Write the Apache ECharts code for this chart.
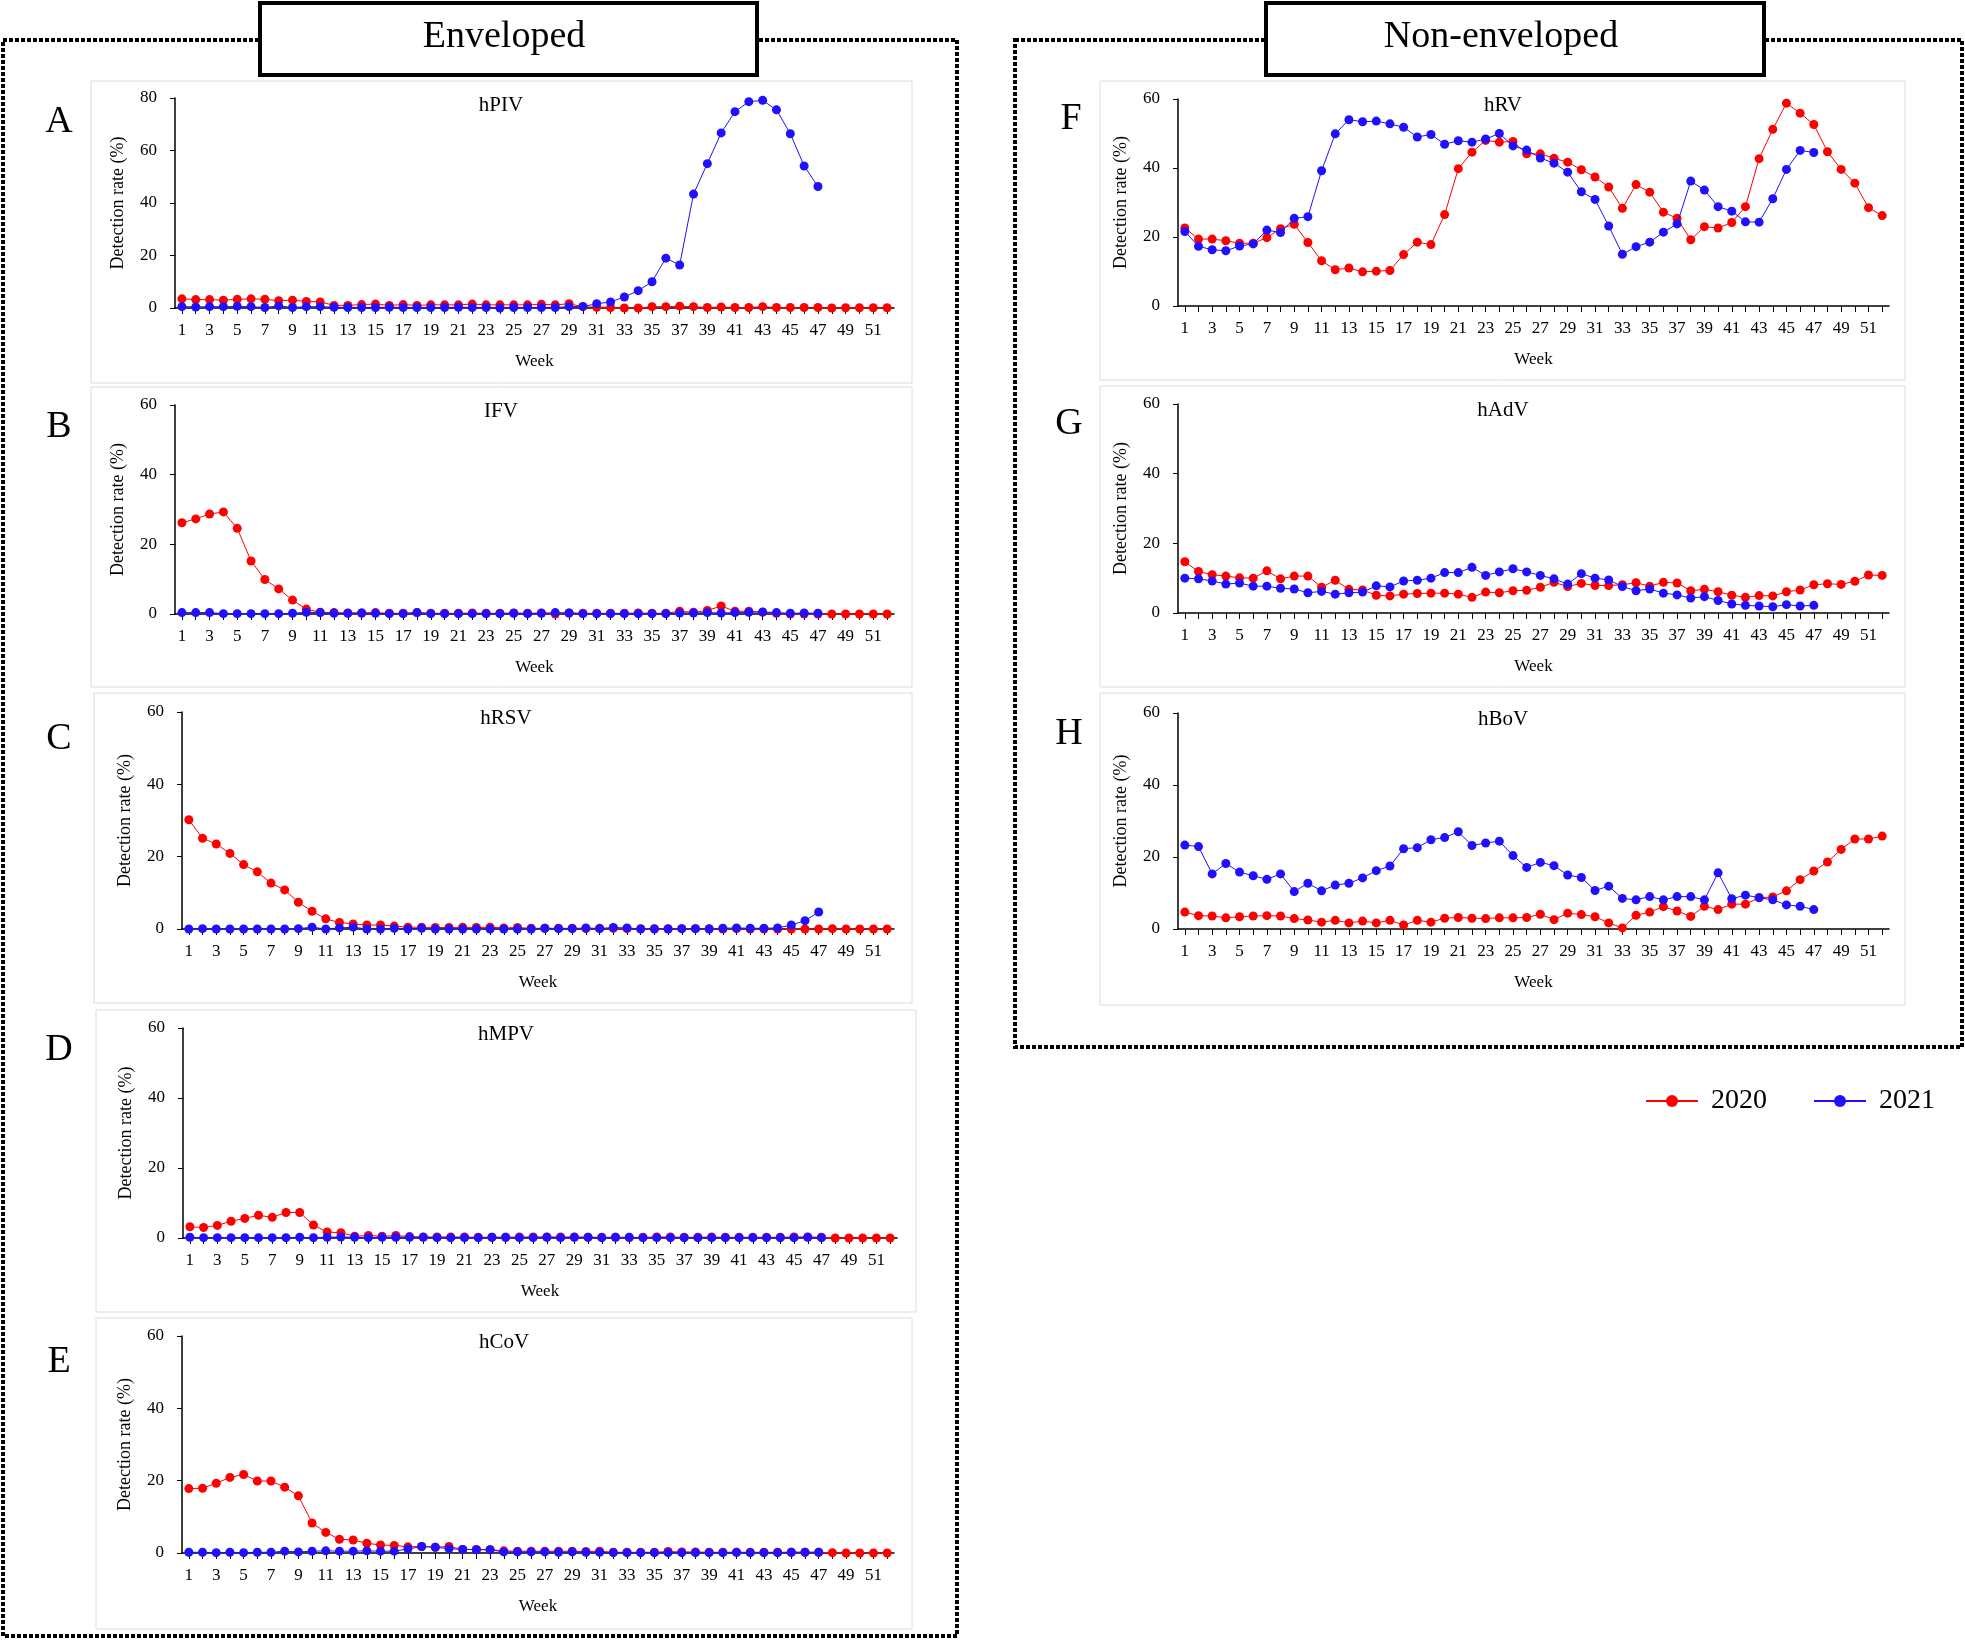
<!DOCTYPE html>
<html>
<head>
<meta charset="utf-8">
<script src="https://cdn.jsdelivr.net/npm/echarts@6/dist/echarts.min.js"></script>
<style>
html,body{margin:0;padding:0;background:#fff;}
#chart{width:1965px;height:1641px;}
</style>
</head>
<body>
<div id="chart"></div>
<script>
const weeks = ['1','2','3','4','5','6','7','8','9','10','11','12','13','14','15','16','17','18','19','20','21','22','23','24','25','26','27','28','29','30','31','32','33','34','35','36','37','38','39','40','41','42','43','44','45','46','47','48','49','50','51','52'];
const seriesNames = ['2020','2021'];
const virusNames = ['hPIV','IFV','hRSV','hMPV','hCoV','hRV','hAdV','hBoV'];
const panelLetters = ['A','B','C','D','E','F','G','H'];

const hPIV_2020 = [3.5,3.2,3.2,3.0,3.3,3.5,3.3,2.8,3.0,2.5,2.3,1.0,1.0,1.3,1.5,1.0,1.3,1.0,1.2,1.2,1.2,1.5,1.2,1.2,1.2,1.2,1.4,1.2,1.6,0.5,0.3,0.2,0.0,0.0,0.5,0.5,0.7,0.5,0.2,0.4,0.2,0.2,0.5,0.2,0.2,0.2,0.2,0.0,0.1,0.1,0.1,0.1];
const hPIV_2021 = [0.5,0.4,0.5,0.5,0.6,0.5,0.2,0.8,0.2,0.5,0.5,0.3,0.2,0.2,0.2,0.3,0.2,0.2,0.2,0.2,0.3,0.2,0.2,0.0,0.2,0.2,0.2,0.2,0.5,0.6,1.6,2.3,4.2,6.6,10.0,19.0,16.4,43.4,55.0,66.7,74.8,78.6,79.1,75.5,66.4,54.1,46.3];

const IFV_2020 = [26.2,27.3,28.7,29.3,24.6,15.2,9.9,7.2,4.0,1.4,0.5,0.4,0.3,0.3,0.4,0.2,0.2,0.4,0.2,0.2,0.2,0.3,0.2,0.2,0.3,0.2,0.3,0.0,0.3,0.2,0.2,0.2,0.2,0.3,0.2,0.2,0.8,0.5,1.0,2.3,0.8,0.8,0.5,0.2,0,0,0,0,0,0,0,0];
const IFV_2021 = [0.4,0.4,0.4,0.1,0.1,0.1,0.1,0.1,0.2,0.5,0.4,0.2,0.2,0.3,0.2,0.1,0.1,0.4,0.1,0.1,0.1,0.1,0.1,0.1,0.2,0.1,0.2,0.4,0.3,0.1,0.1,0.1,0.1,0.1,0.1,0.1,0.3,0.3,0.4,0.3,0.4,0.5,0.6,0.4,0.2,0.3,0.2];

const hRSV_2020 = [30.2,25.1,23.5,20.9,17.8,15.8,12.7,10.8,7.4,4.9,2.8,1.8,1.4,1.1,1.1,0.8,0.5,0.5,0.4,0.4,0.5,0.4,0.5,0.3,0.4,0.2,0.2,0.2,0.2,0.1,0.2,0.2,0.1,0.1,0.1,0.1,0.1,0.1,0.1,0,0.1,0,0,0,0,0,0,0.1,0,0,0,0];
const hRSV_2021 = [0,0.1,0,0,0,0,0,0,0.1,0.5,0,0.3,0.5,0,0,0.2,0,0.2,0,0,0,0,0,0,0,0,0.2,0.1,0.1,0.3,0.1,0.4,0.3,0,0,0,0.1,0.1,0,0.2,0.3,0.2,0.2,0.3,1.1,2.3,4.7];

const hMPV_2020 = [3.2,3.0,3.6,4.8,5.6,6.5,5.9,7.3,7.3,3.7,1.7,1.5,0.5,0.7,0.5,0.7,0.4,0.3,0.3,0.3,0.3,0.2,0.2,0.2,0.3,0.3,0.3,0.3,0.3,0.2,0.2,0.2,0.1,0.2,0.3,0.3,0.2,0.2,0.3,0.2,0.2,0.2,0.2,0.2,0.3,0.3,0.2,0,0,0,0,0];
const hMPV_2021 = [0.2,0.1,0.1,0.1,0.1,0.1,0.1,0.1,0.2,0.1,0.2,0.3,0.2,0.1,0.2,0.2,0.2,0.2,0.1,0.1,0.1,0.1,0.2,0.2,0.1,0.1,0.2,0.1,0.2,0.2,0.1,0.2,0.2,0.1,0.1,0.1,0.1,0.1,0.1,0.1,0.1,0.1,0.1,0.1,0.1,0.2,0.1];

const hCoV_2020 = [17.8,17.9,19.3,20.9,21.7,19.9,19.9,18.2,15.8,8.3,5.7,3.8,3.6,2.7,2.2,2.1,1.7,1.8,1.6,1.8,1.0,1.0,0.9,0.6,0.5,0.5,0.5,0.5,0.5,0.4,0.5,0.2,0.2,0.2,0.2,0.4,0.3,0.3,0.2,0.2,0.2,0.2,0.2,0.2,0.2,0.2,0.2,0.1,0,0,0,0];
const hCoV_2021 = [0.2,0.2,0.1,0.2,0.1,0.2,0.2,0.5,0.3,0.5,0.6,0.5,0.5,0.6,0.5,0.5,1.1,1.8,1.6,1.2,1.0,0.9,0.9,0.3,0.3,0.3,0.3,0.2,0.3,0.2,0.2,0.1,0.1,0.1,0.1,0.1,0.1,0.1,0.1,0.1,0.2,0.1,0.1,0.1,0.2,0.2,0.2];

const hRV_2020 = [22.6,19.4,19.4,18.9,18.2,18.2,19.8,22.4,23.7,18.4,13.1,10.5,11.0,9.9,10.1,10.3,14.9,18.5,17.8,26.5,39.8,44.6,48.0,47.5,47.7,44.1,44.1,42.8,41.7,39.5,37.4,34.5,28.3,35.2,33.0,27.2,25.4,19.2,23.0,22.6,24.2,28.8,42.7,51.2,58.8,55.9,52.6,44.7,39.6,35.6,28.5,26.2];
const hRV_2021 = [21.6,17.3,16.3,16.0,17.4,18.0,22.0,21.3,25.4,25.9,39.2,49.9,54.0,53.4,53.6,52.8,51.8,49.0,49.7,46.9,47.9,47.5,48.4,50.0,46.4,45.2,42.9,41.4,38.8,33.1,30.9,23.2,15.0,17.2,18.5,21.4,23.8,36.2,33.6,28.8,27.5,24.4,24.3,31.1,39.6,45.1,44.5];

const hAdV_2020 = [14.7,11.9,11.0,10.6,10.1,10.0,12.1,9.8,10.6,10.6,7.4,9.4,6.8,6.6,5.1,4.9,5.4,5.6,5.7,5.7,5.4,4.5,6.0,5.8,6.4,6.5,7.4,8.8,7.6,8.5,7.9,7.9,8.1,8.7,7.7,8.8,8.6,6.4,6.8,6.1,5.1,4.5,5.0,4.9,6.1,6.6,8.1,8.4,8.2,9.1,10.9,10.8];
const hAdV_2021 = [10.0,9.8,9.2,8.3,8.6,7.7,7.7,7.1,6.9,5.8,6.2,5.4,5.8,6.0,7.8,7.5,9.2,9.4,10.0,11.6,11.6,13.1,10.8,11.8,12.7,11.8,10.8,9.8,8.3,11.3,10.0,9.5,7.6,6.4,6.9,5.7,5.2,4.3,4.7,3.6,2.6,2.2,2.0,1.8,2.4,2.0,2.2];

const hBoV_2020 = [4.7,3.7,3.6,3.1,3.4,3.6,3.7,3.6,2.9,2.5,1.9,2.4,1.7,2.2,1.7,2.4,1.1,2.4,1.9,3.0,3.2,3.0,2.9,3.1,3.1,3.2,4.1,2.6,4.4,4.0,3.4,1.7,0.3,3.8,4.7,6.2,5.0,3.5,6.3,5.4,6.9,6.9,8.7,8.9,10.6,13.7,16.1,18.6,22.1,25.0,25.0,25.8];
const hBoV_2021 = [23.3,22.9,15.3,18.2,15.8,14.8,13.8,15.3,10.4,12.7,10.6,12.2,12.7,14.2,16.2,17.5,22.3,22.6,24.8,25.4,27.0,23.2,23.9,24.4,20.4,17.1,18.5,17.6,15.0,14.3,10.7,11.9,8.5,8.1,9.0,8.1,9.0,9.0,8.1,15.6,8.4,9.4,8.7,8.1,6.7,6.3,5.4];

const data2020 = [hPIV_2020, IFV_2020, hRSV_2020, hMPV_2020, hCoV_2020, hRV_2020, hAdV_2020, hBoV_2020];
const data2021 = [hPIV_2021, IFV_2021, hRSV_2021, hMPV_2021, hCoV_2021, hRV_2021, hAdV_2021, hBoV_2021];
const yMax = [80,60,60,60,60,60,60,60];

// layout (pixels)
const grids = [
  {left:175, top:98,  width:719, height:210},
  {left:175, top:405, width:719, height:209},
  {left:182, top:712, width:712, height:217},
  {left:183, top:1028,width:714, height:210},
  {left:182, top:1336,width:712, height:217},
  {left:1178,top:99,  width:711, height:207},
  {left:1178,top:404, width:711, height:209},
  {left:1178,top:713, width:711, height:216}
];
const panelBoxes = [
  [91,81,821,302],[91,387,821,300],[94,693,818,310],[96,1010,820,302],[96,1318,816,311],
  [1100,81,805,299],[1100,386,805,301],[1100,693,805,312]
];
const titlePos = [[501,105],[501,411],[506,718],[506,1034],[504,1342],[1503,105],[1503,410],[1503,719]];
const letterPos = [[59,122],[59,427],[59,739],[59,1050],[59,1362],[1071,119],[1069,424],[1069,734]];

const FONT = '"Liberation Serif","Times New Roman",serif';
const RED = '#ff0000', BLUE = '#2010ff';

const legendText = {fontFamily: FONT, fontSize: 28, color: '#000', padding: [0, 0, 0, 8]};
const option = {
  animation: false,
  backgroundColor: '#fff',
  textStyle: {fontFamily: FONT, color: '#000'},
  grid: [], xAxis: [], yAxis: [], series: [],
  legend: [
    {data: [seriesNames[0]], left: 1640, top: 1082, itemWidth: 52, itemHeight: 15, textStyle: legendText},
    {data: [seriesNames[1]], left: 1808, top: 1082, itemWidth: 52, itemHeight: 15, textStyle: legendText}
  ],
  graphic: []
};

grids.forEach((g, i) => {
  option.grid.push(Object.assign({}, g));
  option.xAxis.push({
    type: 'category', gridIndex: i, data: weeks, boundaryGap: true,
    name: 'Week', nameLocation: 'middle', nameGap: 45,
    nameTextStyle: {fontFamily: FONT, fontSize: 17, color: '#000'},
    axisLine: {lineStyle: {color: '#000', width: 1.5}},
    axisTick: {show: true, alignWithLabel: true, interval: 0, length: 6, lineStyle: {color: '#000'}},
    axisLabel: {interval: 1, fontFamily: FONT, fontSize: 17, color: '#000', margin: 14},
    splitLine: {show: false}
  });
  option.yAxis.push({
    type: 'value', gridIndex: i, min: 0, max: yMax[i], interval: 20,
    name: 'Detection rate (%)', nameLocation: 'middle', nameGap: 48,
    nameTextStyle: {fontFamily: FONT, fontSize: 18, color: '#000'},
    axisLine: {show: true, lineStyle: {color: '#000', width: 1.5}},
    axisTick: {show: true, length: 5, lineStyle: {color: '#000'}},
    axisLabel: {fontFamily: FONT, fontSize: 17, color: '#000', margin: 18},
    splitLine: {show: false}
  });
  option.series.push({
    name: seriesNames[0], type: 'line', xAxisIndex: i, yAxisIndex: i,
    data: data2020[i], symbol: 'circle', symbolSize: 9, showAllSymbol: true,
    itemStyle: {color: RED}, lineStyle: {color: RED, width: 1}, z: 2
  });
  option.series.push({
    name: seriesNames[1], type: 'line', xAxisIndex: i, yAxisIndex: i,
    data: data2021[i], symbol: 'circle', symbolSize: 9, showAllSymbol: true,
    itemStyle: {color: BLUE}, lineStyle: {color: BLUE, width: 1}, z: 3
  });
});

const G = option.graphic;
function textEl(str, x, y, size, z) {
  return {type: 'text', z: z, silent: true,
    style: {text: str, x: x, y: y, textAlign: 'center', textVerticalAlign: 'middle',
      align: 'center', verticalAlign: 'middle', font: size + 'px ' + FONT, fill: '#000'}};
}
// panel boxes
panelBoxes.forEach(b => {
  G.push({type: 'rect', shape: {x: b[0], y: b[1], width: b[2], height: b[3]},
    style: {fill: 'none', stroke: '#dcdcdc', lineWidth: 1}, z: 0, silent: true});
});
// dotted outer boxes
G.push({type: 'rect', shape: {x: 3, y: 40, width: 954, height: 1596},
  style: {fill: 'none', stroke: '#000', lineWidth: 4, lineDash: [4, 2]}, z: 1, silent: true});
G.push({type: 'rect', shape: {x: 1015, y: 40, width: 947, height: 1007},
  style: {fill: 'none', stroke: '#000', lineWidth: 4, lineDash: [4, 2]}, z: 1, silent: true});
// header boxes
G.push({type: 'rect', shape: {x: 260, y: 3, width: 497, height: 72},
  style: {fill: '#fff', stroke: '#000', lineWidth: 4}, z: 50, silent: true});
G.push(textEl('Enveloped', 504, 37, 38, 51));
G.push({type: 'rect', shape: {x: 1266, y: 3, width: 498, height: 72},
  style: {fill: '#fff', stroke: '#000', lineWidth: 4}, z: 50, silent: true});
G.push(textEl('Non-enveloped', 1501, 37, 38, 51));
// panel titles and letters
virusNames.forEach((n, i) => {
  G.push(textEl(n, titlePos[i][0], titlePos[i][1], 21, 20));
  G.push(textEl(panelLetters[i], letterPos[i][0], letterPos[i][1], 38, 20));
});

const chart = echarts.init(document.getElementById('chart'), null, {renderer: 'canvas'});
chart.setOption(option);
</script>
</body>
</html>
